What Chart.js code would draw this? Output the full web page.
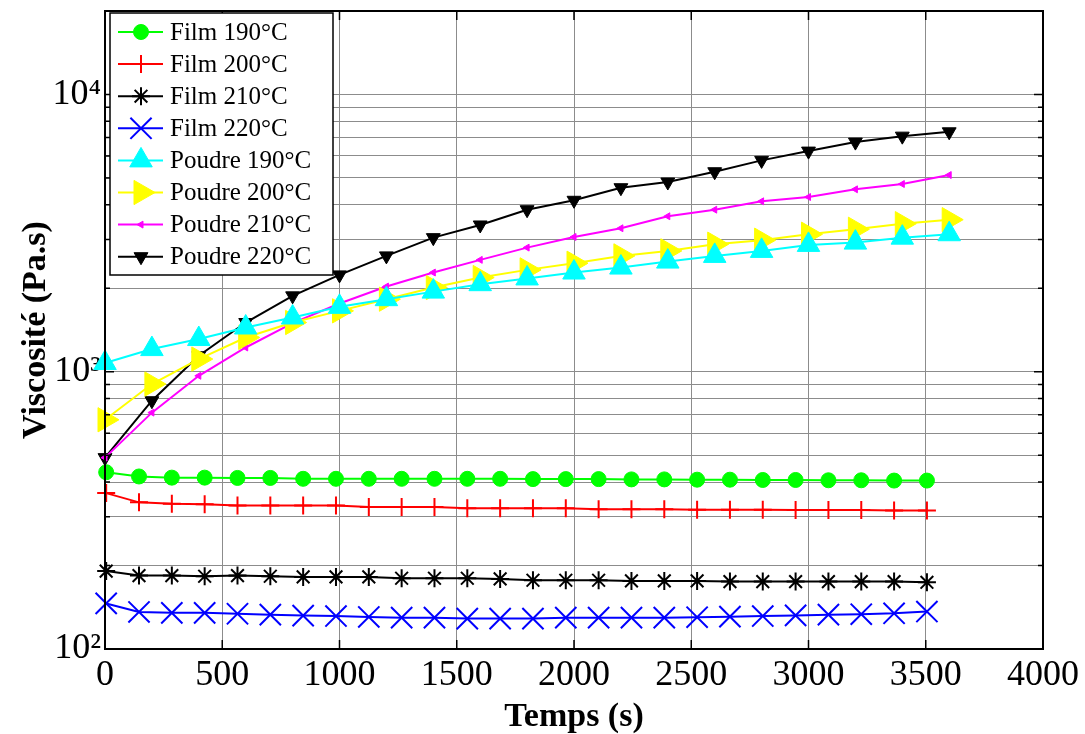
<!DOCTYPE html>
<html><head><meta charset="utf-8">
<script src="https://cdn.jsdelivr.net/npm/chart.js@4.4.0/dist/chart.umd.min.js"></script>
<style>html,body{margin:0;padding:0;background:#fff;overflow:hidden}</style>
</head><body>
<canvas id="c" width="1085" height="734"></canvas>
<script>
// ---- data ----
const filmTimes = [5,145,285,425,565,705,845,985,1125,1265,1405,1545,1685,1825,1965,2105,2245,2385,2525,2665,2805,2945,3085,3225,3365,3505];
const poudreTimes = [0,200,400,600,800,1000,1200,1400,1600,1800,2000,2200,2400,2600,2800,3000,3200,3400,3600];

const film190 = [434,419,415,415,414,414,411,411,411,411,411,411,411,410,410,410,409,409,408,408,407,407,406,406,405,405];
const film200 = [365,338,334,333,329,329,329,329,325,325,325,322,322,322,322,319,319,319,318,318,318,317,317,317,316,316];
const film210 = [191,184,184,183,184,183,182,182,182,180,180,180,179,177,177,177,176,176,176,175,175,175,175,175,175,174];
const film220 = [146,136,135,135,134,133,132,131.5,130.5,129.7,129.7,128.7,128.7,128.7,129.7,129.7,129.7,129.7,130.2,130.8,131.5,132.2,133,133.5,134.5,136.5];

const poudre190 = [1075,1207,1312,1444,1569,1714,1827,1945,2069,2170,2279,2375,2496,2617,2728,2867,2922,3045,3133];
const poudre200 = [671,903,1111,1329,1505,1658,1827,2012,2186,2330,2462,2617,2728,2884,2981,3133,3265,3420,3535];
const poudre210 = [490,712,967,1223,1497,1762,2029,2279,2532,2803,3062,3292,3637,3841,4118,4267,4549,4753,5122];
const poudre220 = [490,786,1142,1505,1878,2235,2617,3045,3383,3840,4153,4610,4833,5264,5784,6248,6733,7074,7334];

const seriesNames = ['Film 190°C','Film 200°C','Film 210°C','Film 220°C','Poudre 190°C','Poudre 200°C','Poudre 210°C','Poudre 220°C'];
const xTickValues = [0,500,1000,1500,2000,2500,3000,3500,4000];
const xTickLabels = ['0','500','1000','1500','2000','2500','3000','3500','4000'];
const yTickValues = [100,200,300,400,500,600,700,800,900,1000,2000,3000,4000,5000,6000,7000,8000,9000,10000,20000];
const yTickLabels = {100:'10²',1000:'10³',10000:'10⁴'};
const xTitle = 'Temps (s)';
const yTitle = 'Viscosité (Pa.s)';

// ---- styles ----
const styles = [
  {color:'#00ff00', pointStyle:'circle',   radius:7.5, bw:1, rot:0},
  {color:'#ff0000', pointStyle:'cross',    radius:9,   bw:2, rot:0},
  {color:'#000000', pointStyle:'star',     radius:9,   bw:2, rot:0},
  {color:'#0000ff', pointStyle:'crossRot', radius:15,  bw:2, rot:0},
  {color:'#00ffff', pointStyle:'triangle', radius:13,  bw:1, rot:0},
  {color:'#ffff00', pointStyle:'triangle', radius:14,  bw:1, rot:90},
  {color:'#ff00ff', pointStyle:'triangle', radius:4,   bw:1, rot:-90},
  {color:'#000000', pointStyle:'triangle', radius:8,   bw:1, rot:180}
];
const seriesData = [
  [filmTimes, film190],[filmTimes, film200],[filmTimes, film210],[filmTimes, film220],
  [poudreTimes, poudre190],[poudreTimes, poudre200],[poudreTimes, poudre210],[poudreTimes, poudre220]
];

const datasets = seriesData.map((s, i) => ({
  label: seriesNames[i],
  data: s[0].map((t, k) => ({x: t, y: s[1][k]})),
  borderColor: styles[i].color,
  backgroundColor: styles[i].color,
  borderWidth: 2,
  pointStyle: styles[i].pointStyle,
  pointRadius: styles[i].radius,
  pointRotation: styles[i].rot,
  pointBorderWidth: styles[i].bw,
  pointBorderColor: styles[i].color,
  pointBackgroundColor: styles[i].color,
  pointHoverRadius: styles[i].radius,
  tension: 0,
  fill: false,
  clip: false
}));

const FONT = "'Liberation Serif', 'Times New Roman', serif";

const framePlugin = {
  id: 'frame',
  afterDatasetsDraw(chart) {
    const ctx = chart.ctx, a = chart.chartArea;
    const ys = chart.scales.y, xs = chart.scales.x;
    ctx.save();
    ctx.strokeStyle = '#000';
    ctx.lineWidth = 1.5;
    ctx.beginPath();
    ys.ticks.forEach(t => {
      const p = ys.getPixelForValue(t.value);
      const major = yTickLabels[t.value] !== undefined;
      const L = major ? 9 : 5;
      ctx.moveTo(a.left, p); ctx.lineTo(a.left + L, p);
      ctx.moveTo(a.right, p); ctx.lineTo(a.right - L, p);
    });
    xs.ticks.forEach(t => {
      const p = xs.getPixelForValue(t.value);
      ctx.moveTo(p, a.bottom); ctx.lineTo(p, a.bottom - 9);
      ctx.moveTo(p, a.top); ctx.lineTo(p, a.top + 9);
    });
    ctx.stroke();
    ctx.lineWidth = 2;
    ctx.strokeRect(a.left, a.top, a.right - a.left, a.bottom - a.top);
    ctx.restore();
  }
};

function drawMarker(ctx, st, x, y) {
  ctx.save();
  ctx.fillStyle = st.color;
  ctx.strokeStyle = st.color;
  ctx.lineWidth = st.bw;
  Chart.helpers.drawPoint(ctx, {pointStyle: st.pointStyle, radius: st.radius, rotation: st.rot, borderWidth: st.bw}, x, y);
  ctx.restore();
}

const legendPlugin = {
  id: 'boxLegend',
  afterDraw(chart) {
    const ctx = chart.ctx, a = chart.chartArea;
    const bx = a.left + 5, by = a.top + 2, bw = 223, bh = 262;
    const rowH = 32.1, firstY = by + 19;
    ctx.save();
    ctx.fillStyle = '#fff';
    ctx.fillRect(bx, by, bw, bh);
    ctx.strokeStyle = '#000';
    ctx.lineWidth = 1.5;
    ctx.strokeRect(bx, by, bw, bh);
    chart.data.datasets.forEach((ds, i) => {
      const y = firstY + rowH * i;
      const st = styles[i];
      ctx.strokeStyle = st.color;
      ctx.lineWidth = 2;
      ctx.beginPath();
      ctx.moveTo(bx + 8, y); ctx.lineTo(bx + 53, y);
      ctx.stroke();
      drawMarker(ctx, st, bx + 31, y);
      ctx.fillStyle = '#000';
      ctx.font = "25px " + FONT;
      ctx.textBaseline = 'middle';
      ctx.textAlign = 'left';
      ctx.fillText(ds.label, bx + 60, y + 1);
    });
    ctx.restore();
  }
};

new Chart(document.getElementById('c'), {
  type: 'line',
  data: { datasets },
  options: {
    responsive: false,
    animation: false,
    layout: { autoPadding: false, padding: { top: 11, right: 42, left: 0, bottom: 0 } },
    plugins: { legend: { display: false }, tooltip: { enabled: false } },
    scales: {
      x: {
        type: 'linear', min: 0, max: 4000,
        afterBuildTicks(scale) { scale.ticks = xTickValues.map(v => ({value: v})); },
        afterFit(scale) { scale.height = 85; scale.paddingLeft = 0; scale.paddingRight = 0; },
        ticks: { color: '#000', font: { family: FONT, size: 36 }, padding: 5, maxRotation: 0, autoSkip: false,
          callback: (v, i) => xTickLabels[i] },
        grid: { color: '#8c8c8c', lineWidth: 1, drawTicks: false },
        border: { display: false },
        title: { display: true, text: xTitle, color: '#000', font: { family: FONT, size: 34, weight: 'bold', lineHeight: 1 }, padding: { top: 0, bottom: 0 } }
      },
      y: {
        type: 'logarithmic', min: 100, max: 20000,
        afterBuildTicks(scale) { scale.ticks = yTickValues.map(v => ({value: v})); },
        afterFit(scale) { scale.width = 105; scale.paddingTop = 0; scale.paddingBottom = 0; },
        ticks: {
          color: '#000', font: { family: FONT, size: 36 }, padding: 4, autoSkip: false,
          callback: (v) => yTickLabels[v] !== undefined ? yTickLabels[v] : ''
        },
        grid: { color: '#8c8c8c', lineWidth: 1, drawTicks: false },
        border: { display: false },
        title: { display: true, text: yTitle, color: '#000', font: { family: FONT, size: 34, weight: 'bold', lineHeight: 1 }, padding: { top: 19, bottom: 0 } }
      }
    }
  },
  plugins: [framePlugin, legendPlugin]
});
</script>
</body></html>
